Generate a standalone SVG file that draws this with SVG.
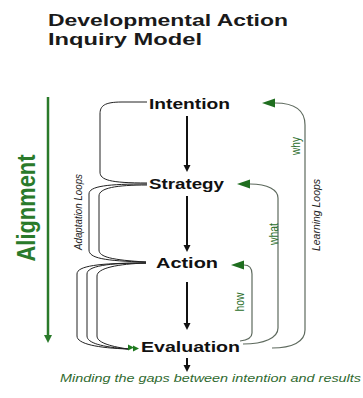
<svg xmlns="http://www.w3.org/2000/svg" width="363" height="398" viewBox="0 0 363 398">
<style>
.title{font-family:"Liberation Sans",Arial,sans-serif;font-weight:700;font-size:16px;fill:#1a1a1a}
.node{font-family:"Liberation Sans",Arial,sans-serif;font-weight:700;font-size:14px;fill:#111}
.vlab{font-family:"Liberation Sans",Arial,sans-serif;font-size:10.5px;font-style:italic;fill:#222}
.glab{font-family:"Liberation Sans",Arial,sans-serif;font-size:12px;fill:#2a6e2a}
.align{font-family:"Liberation Sans",Arial,sans-serif;font-weight:700;font-size:25px;fill:#2a7a2a}
.cap{font-family:"Liberation Sans",Arial,sans-serif;font-style:italic;font-size:10px;fill:#2f6a2f}
.flow{stroke:#111;stroke-width:2;fill:none}
.adapt{stroke:#222;stroke-width:1;fill:none}
.learn{stroke:#5e6a5e;stroke-width:1.2;fill:none}
</style>
<defs>
<marker id="blk" markerUnits="userSpaceOnUse" markerWidth="8" markerHeight="8" refX="1" refY="3.5" orient="auto"><path d="M0,0 L7,3.5 L0,7 z" fill="#111"/></marker>
<marker id="grn" markerUnits="userSpaceOnUse" markerWidth="14" markerHeight="10" refX="0" refY="4.5" orient="auto"><path d="M0,0 L13,4.5 L0,9 z" fill="#1f6e1f"/></marker>
<marker id="galign" markerUnits="userSpaceOnUse" markerWidth="10" markerHeight="10" refX="1" refY="4" orient="auto"><path d="M0,0 L8,4 L0,8 z" fill="#2a7a2a"/></marker>
</defs>
<rect width="363" height="398" fill="#fff"/>
<g id="title">
<text class="title" x="48" y="26" textLength="240" lengthAdjust="spacingAndGlyphs">Developmental Action</text>
<text class="title" x="48" y="45" textLength="154" lengthAdjust="spacingAndGlyphs">Inquiry Model</text>
</g>
<g id="alignment">
<line x1="48" y1="97" x2="48" y2="336" stroke="#2a7a2a" stroke-width="2.5" marker-end="url(#galign)"/>
<text class="align" transform="translate(35,208) rotate(-90)" text-anchor="middle" textLength="107" lengthAdjust="spacingAndGlyphs">Alignment</text>
</g>
<g id="connectors">
<line class="flow" x1="187" y1="116" x2="187" y2="166" marker-end="url(#blk)"/>
<line class="flow" x1="187" y1="196" x2="187" y2="246" marker-end="url(#blk)"/>
<line class="flow" x1="187" y1="282" x2="187" y2="324" marker-end="url(#blk)"/>
<line class="flow" x1="187" y1="358" x2="187" y2="366" marker-end="url(#blk)"/>
<path class="adapt" d="M147,102 L122,102 C104,102 100,106 100,114 L100,172 C100,180 110,183 147,183"/>
<path class="adapt" d="M147,184 C108,184 89,186 89,194 L89,250 C89,258 104,261 146,262"/>
<path class="adapt" d="M147,185 C116,185 99,188 99,196 L99,250 C99,257 112,260 146,262"/>
<path class="adapt" d="M146,263 C98,263 77,266 77,274 L77,336 C77,344 98,348 128,349"/>
<path class="adapt" d="M146,263 C108,263 87,266 87,274 L87,336 C87,343 102,347 128,349"/>
<path class="adapt" d="M146,263 C118,264 97,268 97,276 L97,336 C97,342 108,346 128,349"/>
<path fill="#1f7a1f" d="M128,344.5 L134,347.5 L128,350.5 z M133,345.5 L139,348.5 L133,351.5 z"/>
<path class="learn" d="M272,348 C292,348 305,342 305,330 L305,125 C305,110 295,103 275,103" marker-end="url(#grn)"/>
<path class="learn" d="M243,344 C264,344 278,338 278,328 L278,198 C278,190 268,184 250,184" marker-end="url(#grn)"/>
<path class="learn" d="M240,341 C248,340 252,337 252,333 L252,274 C252,268 250,265 244,265" marker-end="url(#grn)"/>
</g>
<g id="intention"><text class="node" x="149" y="109" textLength="81" lengthAdjust="spacingAndGlyphs">Intention</text></g>
<g id="strategy"><text class="node" x="149" y="189" textLength="75" lengthAdjust="spacingAndGlyphs">Strategy</text></g>
<g id="action"><text class="node" x="156" y="268" textLength="62" lengthAdjust="spacingAndGlyphs">Action</text></g>
<g id="evaluation"><text class="node" x="141" y="352" textLength="99" lengthAdjust="spacingAndGlyphs">Evaluation</text></g>
<g id="labels">
<text class="vlab" transform="translate(82,212) rotate(-90)" text-anchor="middle" textLength="76" lengthAdjust="spacingAndGlyphs">Adaptation Loops</text>
<text class="vlab" transform="translate(320,215) rotate(-90)" text-anchor="middle" textLength="72" lengthAdjust="spacingAndGlyphs">Learning Loops</text>
<text class="glab" transform="translate(300,146) rotate(-90)" text-anchor="middle" textLength="18" lengthAdjust="spacingAndGlyphs">why</text>
<text class="glab" transform="translate(278,234) rotate(-90)" text-anchor="middle" textLength="22" lengthAdjust="spacingAndGlyphs">what</text>
<text class="glab" transform="translate(244,302) rotate(-90)" text-anchor="middle" textLength="19" lengthAdjust="spacingAndGlyphs">how</text>
</g>
<g id="caption"><text class="cap" x="60" y="382" textLength="301" lengthAdjust="spacingAndGlyphs">Minding the gaps between intention and results</text></g>
</svg>
